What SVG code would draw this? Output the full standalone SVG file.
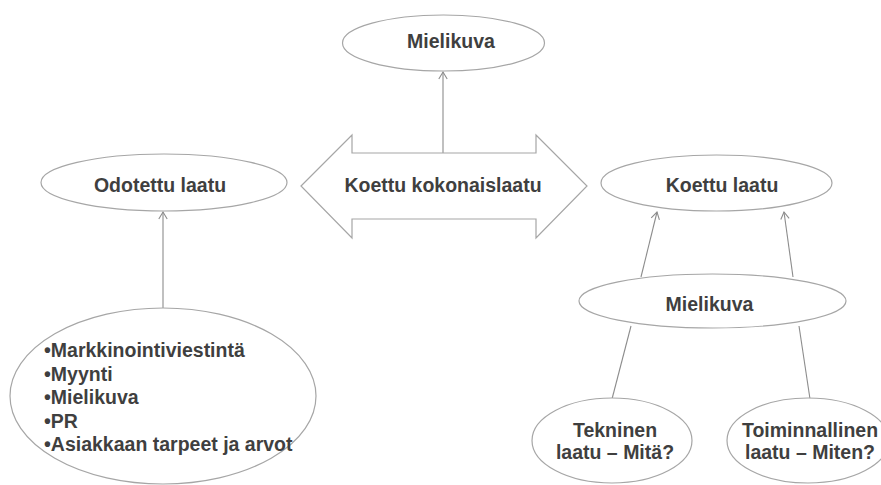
<svg xmlns="http://www.w3.org/2000/svg" width="881" height="485" viewBox="0 0 881 485">
  <style>
    .shape { fill: #ffffff; stroke: #a6a6a6; stroke-width: 1.2; }
    .link { fill: none; stroke: #8c8c8c; stroke-width: 1.1; }
    .label { font-family: "Liberation Sans", Arial, sans-serif; font-weight: bold; font-size: 19.5px; fill: #3f3f3f; text-anchor: middle; }
    .list { text-anchor: start; }
  </style>
  <defs>
    <marker id="open-arrow" markerUnits="userSpaceOnUse" markerWidth="12" markerHeight="12" refX="10" refY="6" orient="auto">
      <path d="M3,1.8 L10,6 L3,10.2" fill="none" stroke="#8c8c8c" stroke-width="1.1"/>
    </marker>
  </defs>

  <rect width="881" height="485" fill="#ffffff"/>

  <!-- connectors -->
  <g id="connectors">
    <line class="link" x1="443" y1="153" x2="443" y2="72" marker-end="url(#open-arrow)"/>
    <line class="link" x1="163" y1="308" x2="163" y2="212" marker-end="url(#open-arrow)"/>
    <line class="link" x1="641" y1="277" x2="657" y2="212" marker-end="url(#open-arrow)"/>
    <line class="link" x1="793" y1="277" x2="784" y2="212" marker-end="url(#open-arrow)"/>
    <line class="link" x1="631" y1="326" x2="612" y2="399"/>
    <line class="link" x1="799" y1="326" x2="810" y2="399"/>
  </g>

  <!-- nodes -->
  <g id="mielikuva-top">
    <ellipse class="shape" cx="443.5" cy="43" rx="101" ry="28"/>
    <text class="label" x="451" y="48">Mielikuva</text>
  </g>

  <g id="koettu-kokonaislaatu">
    <polygon class="shape" points="301,186 352,135 352,153 536,153 536,135 587,186 536,238 536,219 352,219 352,238"/>
    <text class="label" x="443" y="192">Koettu kokonaislaatu</text>
  </g>

  <g id="odotettu-laatu">
    <ellipse class="shape" cx="164" cy="182.5" rx="123" ry="28.5"/>
    <text class="label" x="160" y="192">Odotettu laatu</text>
  </g>

  <g id="tekijat">
    <ellipse class="shape" cx="163" cy="396" rx="153" ry="88"/>
    <text class="label list" x="44" y="357">•Markkinointiviestintä</text>
    <text class="label list" x="44" y="381">•Myynti</text>
    <text class="label list" x="44" y="404">•Mielikuva</text>
    <text class="label list" x="44" y="428">•PR</text>
    <text class="label list" x="44" y="451">•Asiakkaan tarpeet ja arvot</text>
  </g>

  <g id="koettu-laatu">
    <ellipse class="shape" cx="716.5" cy="183" rx="115.5" ry="28"/>
    <text class="label" x="722" y="192">Koettu laatu</text>
  </g>

  <g id="mielikuva-right">
    <ellipse class="shape" cx="712.5" cy="301" rx="133.5" ry="27"/>
    <text class="label" x="709.5" y="311">Mielikuva</text>
  </g>

  <g id="tekninen-laatu">
    <ellipse class="shape" cx="612" cy="440.5" rx="80" ry="42.5"/>
    <text class="label" x="615" y="437">Tekninen</text>
    <text class="label" x="615" y="459">laatu – Mitä?</text>
  </g>

  <g id="toiminnallinen-laatu">
    <ellipse class="shape" cx="808" cy="440.5" rx="81" ry="42.5"/>
    <text class="label" x="810" y="437">Toiminnallinen</text>
    <text class="label" x="810" y="459">laatu – Miten?</text>
  </g>
</svg>
